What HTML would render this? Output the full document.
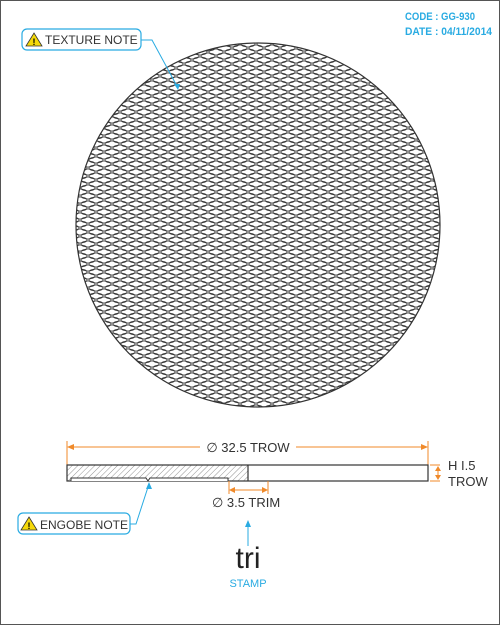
<!DOCTYPE html>
<html><head><meta charset="utf-8"><style>
html,body{margin:0;padding:0;background:#fff}
svg{display:block;font-family:"Liberation Sans","DejaVu Sans",sans-serif}
</style></head><body>
<svg width="500" height="625" viewBox="0 0 500 625">
<defs>
<pattern id="tex" width="16" height="8" patternUnits="userSpaceOnUse">
<ellipse cx="8" cy="4" rx="7" ry="3" fill="none" stroke="#333" stroke-width="0.8"/>
<ellipse cx="0" cy="0" rx="7" ry="3" fill="none" stroke="#333" stroke-width="0.8"/>
<ellipse cx="16" cy="0" rx="7" ry="3" fill="none" stroke="#333" stroke-width="0.8"/>
<ellipse cx="0" cy="8" rx="7" ry="3" fill="none" stroke="#333" stroke-width="0.8"/>
<ellipse cx="16" cy="8" rx="7" ry="3" fill="none" stroke="#333" stroke-width="0.8"/>
</pattern>
<pattern id="hatch" width="4" height="4" patternUnits="userSpaceOnUse" patternTransform="rotate(45)">
<line x1="0" y1="0" x2="0" y2="4" stroke="#777" stroke-width="0.8"/>
</pattern>
</defs>
<rect x="0.5" y="0.5" width="499" height="624" fill="#fff" stroke="#555"/>
<text x="405" y="20" font-size="11" font-weight="bold" fill="#29abe2" textLength="70" lengthAdjust="spacingAndGlyphs">CODE : GG-930</text>
<text x="405" y="35" font-size="11" font-weight="bold" fill="#29abe2" textLength="87" lengthAdjust="spacingAndGlyphs">DATE : 04/11/2014</text>
<g>
<circle cx="258" cy="225" r="182" fill="url(#tex)" stroke="#333" stroke-width="1.2"/>
</g>
<g>
<rect x="22" y="29" width="119" height="21" rx="5" fill="#fff" stroke="#29abe2" stroke-width="1.2"/>
<polygon points="34,33 42,46 26,46" fill="#f5d90a" stroke="#333" stroke-width="0.8"/>
<text x="34" y="45" font-size="9" font-weight="bold" text-anchor="middle">!</text>
<text x="45" y="44" font-size="12" fill="#333">TEXTURE NOTE</text>
<polyline points="141,40 152,40 178,88" fill="none" stroke="#29abe2" stroke-width="1"/>
<polygon points="178,90 174,84 180,84" fill="#29abe2"/>
</g>
<g stroke="#f08a2a" fill="#f08a2a">
<line x1="67" y1="441" x2="67" y2="465" stroke-width="1"/>
<line x1="428" y1="441" x2="428" y2="465" stroke-width="1"/>
<line x1="68" y1="447" x2="200" y2="447" stroke-width="1"/>
<line x1="296" y1="447" x2="427" y2="447" stroke-width="1"/>
<polygon points="67,447 74,444 74,450" stroke="none"/>
<polygon points="428,447 421,444 421,450" stroke="none"/>
</g>
<text x="248" y="452" font-size="13" fill="#333" text-anchor="middle">∅ 32.5 TROW</text>
<g>
<rect x="67" y="465" width="181" height="16" fill="url(#hatch)"/>
<rect x="67" y="465" width="361" height="16" fill="none" stroke="#333" stroke-width="1.2"/>
<line x1="248" y1="465" x2="248" y2="481" stroke="#333" stroke-width="1.2"/>
<polyline points="71,481 71,478 146,478 148,481 150,478 228,478 228,481" fill="#fff" stroke="#333" stroke-width="1"/>
</g>
<g fill="#f08a2a" stroke="#f08a2a">
<line x1="430" y1="465" x2="440" y2="465"/>
<line x1="430" y1="481" x2="440" y2="481"/>
<line x1="438" y1="467" x2="438" y2="479"/>
<polygon points="438,466 435,471 441,471" stroke="none"/>
<polygon points="438,480 435,475 441,475" stroke="none"/>
</g>
<text x="448" y="470" font-size="13" fill="#333">H I.5</text>
<text x="448" y="486" font-size="13" fill="#333">TROW</text>
<g fill="#f08a2a" stroke="#f08a2a">
<line x1="229" y1="481" x2="229" y2="494"/>
<line x1="268" y1="481" x2="268" y2="494"/>
<line x1="230" y1="490" x2="267" y2="490"/>
<polygon points="229,490 235,487 235,493" stroke="none"/>
<polygon points="268,490 262,487 262,493" stroke="none"/>
</g>
<text x="212" y="507" font-size="13" fill="#333">∅ 3.5 TRIM</text>
<g>
<rect x="18" y="513" width="112" height="21" rx="5" fill="#fff" stroke="#29abe2" stroke-width="1.2"/>
<polygon points="29,517 37,530 21,530" fill="#f5d90a" stroke="#333" stroke-width="0.8"/>
<text x="29" y="529" font-size="9" font-weight="bold" text-anchor="middle">!</text>
<text x="40" y="529" font-size="12" fill="#333">ENGOBE NOTE</text>
<polyline points="130,524 136,524 149,484" fill="none" stroke="#29abe2" stroke-width="1"/>
<polygon points="149,482 146,489 152,489" fill="#29abe2"/>
</g>
<g>
<line x1="248" y1="546" x2="248" y2="525" stroke="#29abe2" stroke-width="1"/>
<polygon points="248,520 245,527 251,527" fill="#29abe2"/>
</g>
<text x="248" y="568" font-size="30" fill="#222" text-anchor="middle">tri</text>
<text x="248" y="587" font-size="11" fill="#29abe2" text-anchor="middle">STAMP</text>
</svg>
</body></html>
